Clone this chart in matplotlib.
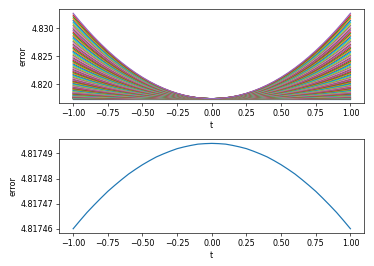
import numpy as np
import matplotlib
matplotlib.use('Agg')
import matplotlib.pyplot as plt

# time grid shared by both panels (step 0.05)
t = np.round(np.arange(-20, 21) * 0.05, 2)

# relative shape of the upper curves (0 at t=0, 1 at the ends), one half
half_shape = [1.0, 0.9025, 0.81, 0.7225, 0.64, 0.5625, 0.49, 0.4225, 0.36, 0.3025,
              0.25, 0.2025, 0.16, 0.1225, 0.09, 0.0625, 0.04, 0.0225, 0.01, 0.0025, 0.0]

# value at t=0 for every curve in the upper panel
base_error = 4.81749

# rise at |t|=1 of each curve, in units of 1e-4
end_rise = [0.0, 0.02, 0.07, 0.15, 0.27, 0.43, 0.62, 0.84, 1.09, 1.39,
            1.71, 2.07, 2.46, 2.89, 3.35, 3.85, 4.38, 4.94, 5.54, 6.17,
            6.84, 7.54, 8.28, 9.05, 9.85, 10.69, 11.56, 12.47, 13.41, 14.38,
            15.39, 16.43, 17.51, 18.62, 19.77, 20.95, 22.16, 23.41, 24.69, 26.01,
            27.36, 28.75, 30.16, 31.62, 33.11, 34.63, 36.18, 37.77, 39.40, 41.06,
            42.75, 44.48, 46.24, 48.03, 49.86, 51.73, 53.63, 55.56, 57.52, 59.53,
            61.56, 63.63, 65.73, 67.87, 70.04, 72.25, 74.49, 76.76, 79.07, 81.41,
            83.79, 86.20, 88.65, 91.13, 93.64, 96.19, 98.77, 101.39, 104.04, 106.72,
            109.44, 112.19, 114.98, 117.80, 120.66, 123.55, 126.47, 129.43, 132.42, 135.45,
            138.51, 141.61, 144.74, 147.90, 151.10]

# lower panel: a single curve, left half (t=-1 .. 0), symmetric
lower_half = [4.8174600, 4.8174633, 4.8174665, 4.8174694, 4.8174722, 4.8174749,
              4.8174773, 4.8174796, 4.8174818, 4.8174837, 4.8174855, 4.8174871,
              4.8174886, 4.8174898, 4.8174909, 4.8174919, 4.8174926, 4.8174932,
              4.8174937, 4.8174939, 4.8174940]

shape_arr = np.array(half_shape + half_shape[-2::-1])
lower_error = np.array(lower_half + lower_half[-2::-1])

fig = plt.figure(figsize=(374 / 58, 266 / 58), dpi=58)
ax1 = fig.add_axes([0.1586, 0.613, 0.8154, 0.353])
ax2 = fig.add_axes([0.1586, 0.124, 0.8154, 0.353])

for rise in end_rise:
    ax1.plot(t, base_error + rise * 1e-4 * shape_arr)
ax1.set_xlabel('t')
ax1.set_ylabel('error')
ax1.set_yticks([4.820, 4.825, 4.830])

ax2.plot(t, lower_error)
ax2.set_xlabel('t')
ax2.set_ylabel('error')
ax2.set_yticks([4.81746, 4.81747, 4.81748, 4.81749])
ax2.ticklabel_format(axis='y', useOffset=False)

fig.savefig('out.png', dpi=58)
